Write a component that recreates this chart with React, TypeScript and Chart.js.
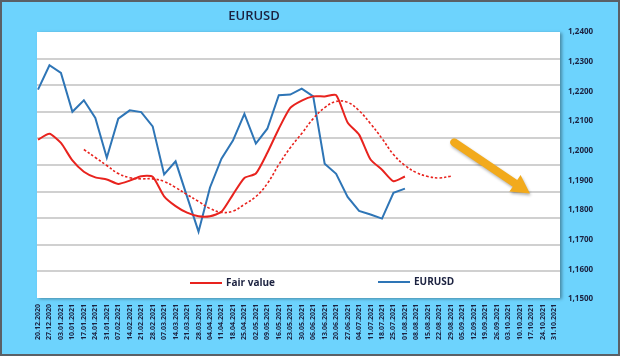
import React, { useEffect, useRef } from "react";
import { Chart, registerables } from "chart.js";

Chart.register(...registerables);

const categories = [
  "20.12.2020", "27.12.2020", "03.01.2021", "10.01.2021", "17.01.2021", "24.01.2021",
  "31.01.2021", "07.02.2021", "14.02.2021", "21.02.2021", "28.02.2021", "07.03.2021",
  "14.03.2021", "21.03.2021", "28.03.2021", "04.04.2021", "11.04.2021", "18.04.2021",
  "25.04.2021", "02.05.2021", "09.05.2021", "16.05.2021", "23.05.2021", "30.05.2021",
  "06.06.2021", "13.06.2021", "20.06.2021", "27.06.2021", "04.07.2021", "11.07.2021",
  "18.07.2021", "25.07.2021", "01.08.2021", "08.08.2021", "15.08.2021", "22.08.2021",
  "29.08.2021", "05.09.2021", "12.09.2021", "19.09.2021", "26.09.2021", "03.10.2021",
  "10.10.2021", "17.10.2021", "24.10.2021", "31.10.2021",
];

const eurusd = [
  1.2206, 1.2288, 1.2262, 1.2131, 1.217, 1.211, 1.1976, 1.2108, 1.2136, 1.213,
  1.2082, 1.192, 1.1964, 1.1845, 1.1727, 1.1876, 1.1973, 1.2034, 1.2124, 1.2024,
  1.2074, 1.2187, 1.2189, 1.2209, 1.2183, 1.1956, 1.1922, 1.1844, 1.1797, 1.1785,
  1.1771, 1.1858, 1.1872,
];

const fairValue = [
  1.2037, 1.2057, 1.2026, 1.1967, 1.1929, 1.191, 1.1903, 1.1888, 1.1899, 1.1914,
  1.1912, 1.1846, 1.1813, 1.1791, 1.1779, 1.1779, 1.1794, 1.1852, 1.1908, 1.1923,
  1.1993, 1.2074, 1.2144, 1.2169, 1.2183, 1.2183, 1.2187, 1.2095, 1.2054, 1.197,
  1.1936, 1.1897, 1.1913,
];

const fairValueTrend = [
  null, null, null, null,
  1.2004, 1.1977, 1.195, 1.1923, 1.1909, 1.1905, 1.1905, 1.1896, 1.1876, 1.1852,
  1.1829, 1.1805, 1.1792, 1.1796, 1.1819, 1.1845, 1.1889, 1.1953, 1.201, 1.2058,
  1.2108, 1.2145, 1.2166, 1.2163, 1.2135, 1.2091, 1.2041, 1.1987, 1.195, 1.1926,
  1.1913, 1.1908, 1.1914,
];

const yMin = 1.15;
const yMax = 1.24;
const yStep = 0.01;
const gridDivisions = 10;

const arrowFrom = { index: 36.3, value: 1.2028 };
const arrowTo = { index: 42.9, value: 1.1856 };

const RED = "#e8231e";
const BLUE = "#2e75b6";
const TEXT = "#1c2240";
const GRID = "#d0d0d0";

function drawGrid(chart: any) {
  const { ctx, chartArea } = chart;
  const top = chartArea.top;
  const h = chartArea.bottom - chartArea.top - 1;
  ctx.save();
  ctx.fillStyle = GRID;
  for (let k = 1; k < gridDivisions; k++) {
    const y = Math.round(top + (h * k) / gridDivisions);
    ctx.fillRect(chartArea.left - 1, y - 1, chartArea.right - chartArea.left + 7, 2);
  }
  ctx.restore();
}

const decorPlugin = {
  id: "decor",
  beforeDraw(chart: any) {
    const { ctx, chartArea } = chart;
    ctx.save();
    ctx.shadowColor = "rgba(0,0,0,0.35)";
    ctx.shadowBlur = 3;
    ctx.shadowOffsetX = 2;
    ctx.shadowOffsetY = 1;
    ctx.fillStyle = "#ffffff";
    ctx.fillRect(chartArea.left - 1, chartArea.top, chartArea.right - chartArea.left + 7, chartArea.bottom - chartArea.top - 1);
    ctx.restore();
  },
  beforeDatasetsDraw(chart: any) {
    drawGrid(chart);
  },
  afterDraw(chart: any) {
    const { ctx } = chart;
    const xs = chart.scales.x;
    const ys = chart.scales.y;

    // title
    ctx.save();
    ctx.fillStyle = TEXT;
    ctx.font = '600 13px "Open Sans"';
    ctx.textAlign = "center";
    ctx.textBaseline = "middle";
    ctx.fillText("EURUSD", 254, 16);

    // legend
    const items = [
      { label: "Fair value", color: RED, x: 190, y: 283 },
      { label: "EURUSD", color: BLUE, x: 378, y: 282 },
    ];
    ctx.font = 'bold 10px "Open Sans"';
    ctx.textAlign = "left";
    for (const it of items) {
      ctx.strokeStyle = it.color;
      ctx.lineWidth = 2;
      ctx.beginPath();
      ctx.moveTo(it.x, it.y);
      ctx.lineTo(it.x + 32, it.y);
      ctx.stroke();
      ctx.fillStyle = TEXT;
      ctx.fillText(it.label, it.x + 36, it.y);
    }

    // arrow
    const x0 = xs.getPixelForValue(arrowFrom.index);
    const y0 = ys.getPixelForValue(arrowFrom.value);
    const x1 = xs.getPixelForValue(arrowTo.index);
    const y1 = ys.getPixelForValue(arrowTo.value);
    const ang = Math.atan2(y1 - y0, x1 - x0);
    const L = Math.hypot(x1 - x0, y1 - y0);
    const headLen = 18;
    const headW = 20;
    ctx.translate(x0, y0);
    ctx.rotate(ang);
    ctx.shadowColor = "rgba(0,0,0,0.3)";
    ctx.shadowBlur = 3;
    ctx.shadowOffsetX = 1;
    ctx.shadowOffsetY = 2;
    ctx.fillStyle = "#f2aa1c";
    ctx.beginPath();
    ctx.arc(0, 0, 4, Math.PI / 2, Math.PI * 1.5);
    ctx.lineTo(L - headLen, -4);
    ctx.lineTo(L - headLen, -headW / 2);
    ctx.lineTo(L, 0);
    ctx.lineTo(L - headLen, headW / 2);
    ctx.lineTo(L - headLen, 4);
    ctx.closePath();
    ctx.fill();
    ctx.restore();

    // outer border
    ctx.save();
    ctx.strokeStyle = "#5a6066";
    ctx.lineWidth = 2;
    ctx.strokeRect(1, 1, chart.width - 2, chart.height - 2);
    ctx.restore();
  },
};

export default function App() {
  const ref = useRef<HTMLCanvasElement>(null);

  useEffect(() => {
    document.body.style.margin = "0";
    const canvas = ref.current!;
    const chart = new Chart(canvas, {
      type: "line",
      data: {
        labels: categories,
        datasets: [
          {
            label: "Fair value",
            data: fairValue,
            borderColor: RED,
            borderWidth: 2,
            pointRadius: 0,
            tension: 0.2,
            fill: false,
          },
          {
            label: "Fair value trend",
            data: fairValueTrend,
            borderColor: RED,
            borderWidth: 1.6,
            borderDash: [2.5, 2],
            pointRadius: 0,
            tension: 0.4,
            fill: false,
          },
          {
            label: "EURUSD",
            data: eurusd,
            borderColor: BLUE,
            borderWidth: 2,
            pointRadius: 0,
            tension: 0,
            fill: false,
          },
        ],
      },
      options: {
        responsive: false,
        animation: false,
        devicePixelRatio: 1,
        layout: { padding: { left: 38, top: 32, right: 0, bottom: 0 } },
        plugins: {
          legend: { display: false },
          title: { display: false },
          tooltip: { enabled: false },
        },
        scales: {
          x: {
            type: "category",
            offset: false,
            grid: { display: false, drawTicks: false },
            border: { display: false },
            ticks: {
              autoSkip: false,
              maxRotation: 90,
              minRotation: 90,
              padding: 5,
              color: TEXT,
              font: { family: '"Open Sans"', size: 7, weight: "bold" },
            },
            afterFit: (s: any) => {
              s.height = 57;
            },
          },
          y: {
            position: "right",
            min: yMin,
            max: yMax,
            grid: { display: false, drawTicks: false },
            border: { display: false },
            ticks: {
              stepSize: yStep,
              padding: 14,
              color: TEXT,
              font: { family: '"Open Sans"', size: 8, weight: "bold" },
              callback: (v: any) => Number(v).toFixed(4).replace(".", ","),
            },
            afterFit: (s: any) => {
              s.width = 66;
            },
          },
        },
      } as any,
      plugins: [decorPlugin],
    });
    return () => chart.destroy();
  }, []);

  return (
    <div style={{ width: 620, height: 356, background: "#6dd3fd", position: "relative" }}>
      <canvas ref={ref} width={620} height={356} style={{ display: "block" }} />
    </div>
  );
}
